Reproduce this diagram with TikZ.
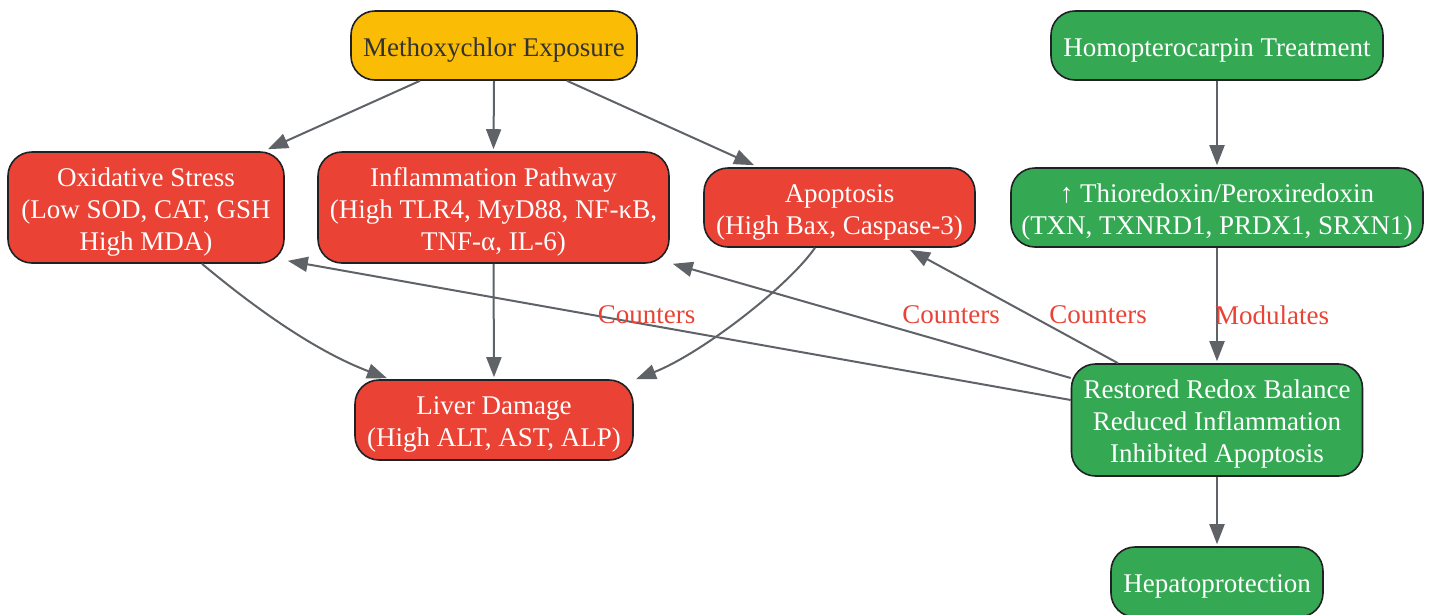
\documentclass[tikz,border=0pt]{standalone}
\usepackage{fontspec}
\setmainfont{Liberation Serif}
\usetikzlibrary{arrows.meta}
\definecolor{cred}{HTML}{EA4335}
\definecolor{cgreen}{HTML}{34A853}
\definecolor{cyellow}{HTML}{FBBC05}
\definecolor{cedge}{HTML}{5F6368}
\definecolor{cborder}{HTML}{202124}
\definecolor{ctext}{HTML}{333333}
\newcommand\nodetext[1]{\raisebox{0pt}[\dimexpr\height+9pt\relax][\depth]{\begin{tabular}{@{}c@{}}#1\end{tabular}}}
\begin{document}
\begin{tikzpicture}[x=1pt,y=-1pt,
  box/.style={draw=cborder, line width=1.6pt, rounded corners=24pt, inner sep=0pt,
    font=\fontsize{27pt}{32pt}\selectfont},
  redbox/.style={box, fill=cred, text=white},
  greenbox/.style={box, fill=cgreen, text=white},
  yellowbox/.style={box, fill=cyellow, text=ctext},
  arr/.style={draw=cedge, line width=2pt, -{Triangle[length=20pt,width=15pt]}},
  lbl/.style={text=cred, font=\fontsize{27pt}{32pt}\selectfont, inner sep=0pt}
]
\useasboundingbox[fill=white] (0,0) rectangle (1431,614);

\node[yellowbox, minimum width=286pt, minimum height=69pt] (meth) at (494,45.5) {\nodetext{Methoxychlor Exposure}};
\node[greenbox, minimum width=332pt, minimum height=69pt] (homo) at (1217,45.5) {\nodetext{Homopterocarpin Treatment}};
\node[redbox, minimum width=276pt, minimum height=111pt] (ox) at (146,207.5) {\nodetext{Oxidative Stress\\(Low SOD, CAT, GSH\\High MDA)}};
\node[redbox, minimum width=351pt, minimum height=111pt] (infl) at (493.5,207.5) {\nodetext{Inflammation Pathway\\(High TLR4, MyD88, NF-κB,\\TNF-α, IL-6)}};
\node[redbox, minimum width=271pt, minimum height=79pt] (apop) at (839.5,207.5) {\nodetext{Apoptosis\\(High Bax, Caspase-3)}};
\node[greenbox, minimum width=412pt, minimum height=79pt] (thio) at (1217,207.5) {\nodetext{↑ Thioredoxin/Peroxiredoxin\\(TXN, TXNRD1, PRDX1, SRXN1)}};
\node[redbox, minimum width=278pt, minimum height=80pt] (liver) at (494,420) {\nodetext{Liver Damage\\(High ALT, AST, ALP)}};
\node[greenbox, minimum width=291pt, minimum height=112pt] (rest) at (1217,420) {\nodetext{Restored Redox Balance\\Reduced Inflammation\\Inhibited Apoptosis}};
\node[greenbox, minimum width=212pt, minimum height=70pt] (hep) at (1217,582) {\nodetext{Hepatoprotection}};

\draw[arr] ([xshift=-74pt]meth.south) -- ([xshift=122pt,yshift=2pt]ox.north);
\draw[arr] (meth.south) -- ([yshift=2pt]infl.north);
\draw[arr] ([xshift=73pt]meth.south) -- ([xshift=-85.5pt,yshift=2pt]apop.north);
\draw[arr] (homo.south) -- ([yshift=2pt]thio.north);
\draw[arr] ([xshift=56pt]ox.south) .. controls +(43,36) and +(-77,-29) .. ([xshift=-107pt,yshift=1pt]liver.north);
\draw[arr] (infl.south) -- ([yshift=2pt]liver.north);
\draw[arr] ([xshift=-24.5pt]apop.south) .. controls +(-28,40) and +(64,-25) .. ([xshift=142pt,yshift=0pt]liver.north);
\draw[arr] (thio.south) -- ([yshift=2pt]rest.north) node[lbl, at={(1272,315)}] {Modulates};
\draw[arr] ([yshift=20pt]rest.west) -- ([xshift=3pt,yshift=3pt]ox.south east) node[lbl, at={(646.5,315)}] {Counters};
\draw[arr] ([yshift=42pt]rest.west) -- ([xshift=3pt]infl.south east) node[lbl, at={(951,315)}] {Counters};
\draw[arr] ([xshift=-99pt]rest.north) -- ([xshift=70.5pt,yshift=-2pt]apop.south) node[lbl, at={(1098,315)}] {Counters};
\draw[arr] (rest.south) -- ([yshift=2pt]hep.north);
\end{tikzpicture}
\end{document}
